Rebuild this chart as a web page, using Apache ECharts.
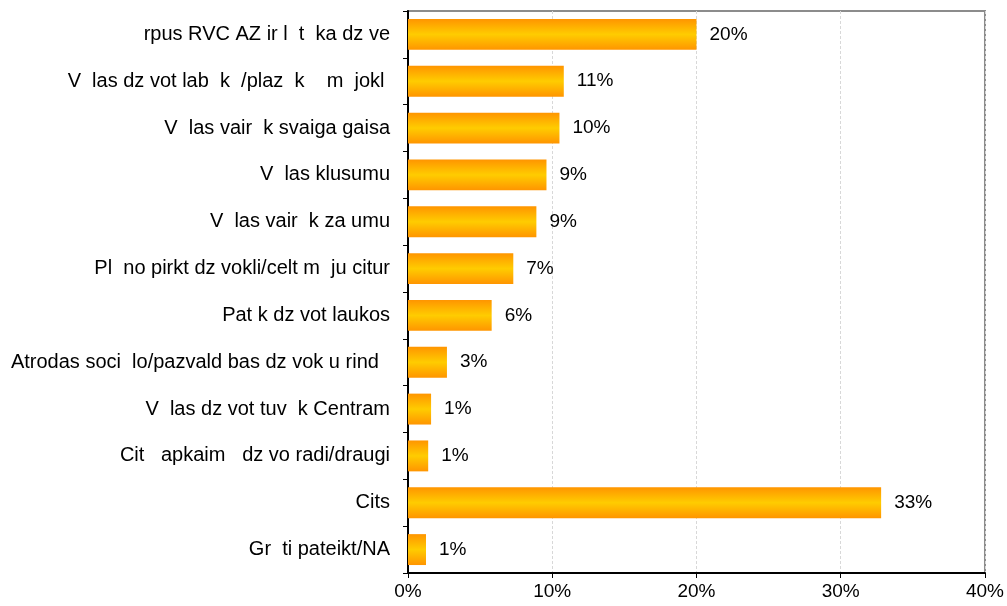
<!DOCTYPE html>
<html><head><meta charset="utf-8">
<script src="https://cdn.jsdelivr.net/npm/echarts@6/dist/echarts.min.js"></script>
<style>html,body{margin:0;padding:0;background:#fff}#c{width:1007px;height:606px}</style>
</head><body><div id="c"></div>
<script>
const categories = [
  "rpus RVC AZ ir l  t  ka dz ve",
  "V  las dz vot lab  k  /plaz  k    m  jokl ",
  "V  las vair  k svaiga gaisa",
  "V  las klusumu",
  "V  las vair  k za umu",
  "Pl  no pirkt dz vokli/celt m  ju citur",
  "Pat k dz vot laukos",
  "Atrodas soci  lo/pazvald bas dz vok u rind  ",
  "V  las dz vot tuv  k Centram",
  "Cit   apkaim   dz vo radi/draugi",
  "Cits",
  "Gr  ti pateikt/NA"
];
const values = [20.0, 10.8, 10.5, 9.6, 8.9, 7.3, 5.8, 2.7, 1.6, 1.4, 32.8, 1.25];
const labels = ["20%", "11%", "10%", "9%", "9%", "7%", "6%", "3%", "1%", "1%", "33%", "1%"];
const xTicks = [0, 10, 20, 30, 40];

const chart = echarts.init(document.getElementById('c'), null, {renderer: 'canvas'});
const font = 'Liberation Sans, Arial, sans-serif';
chart.setOption({
  animation: false,
  grid: {left: 408, right: 22, top: 11, bottom: 33, show: true, borderColor: '#8c8c8c', borderWidth: 2, backgroundColor: '#fff'},
  xAxis: {
    type: 'value', min: xTicks[0], max: xTicks[xTicks.length - 1], interval: 10,
    axisLine: {show: true, lineStyle: {color: '#000', width: 2}},
    axisTick: {show: true, length: 5, lineStyle: {color: '#000'}},
    axisLabel: {formatter: v => v + '%', color: '#000', fontFamily: font, fontSize: 19, margin: 9},
    splitLine: {show: true, lineStyle: {color: '#d8d8d8', type: [3, 2], width: 1}}
  },
  yAxis: {
    type: 'category', data: categories, inverse: true,
    axisLine: {show: true, lineStyle: {color: '#000', width: 2}},
    axisTick: {show: true, length: 5, lineStyle: {color: '#000'}},
    axisLabel: {color: '#000', fontFamily: font, fontSize: 20, margin: 18}
  },
  series: [{
    type: 'bar', data: values, barCategoryGap: '34%',
    itemStyle: {color: new echarts.graphic.LinearGradient(0, 0, 0, 1, [
      {offset: 0, color: '#ff9500'}, {offset: 0.5, color: '#ffcc00'}, {offset: 1, color: '#ff9500'}
    ])},
    label: {show: true, position: 'right', distance: 13, color: '#000', fontFamily: font, fontSize: 19,
      formatter: p => labels[p.dataIndex]}
  }]
});
</script></body></html>
